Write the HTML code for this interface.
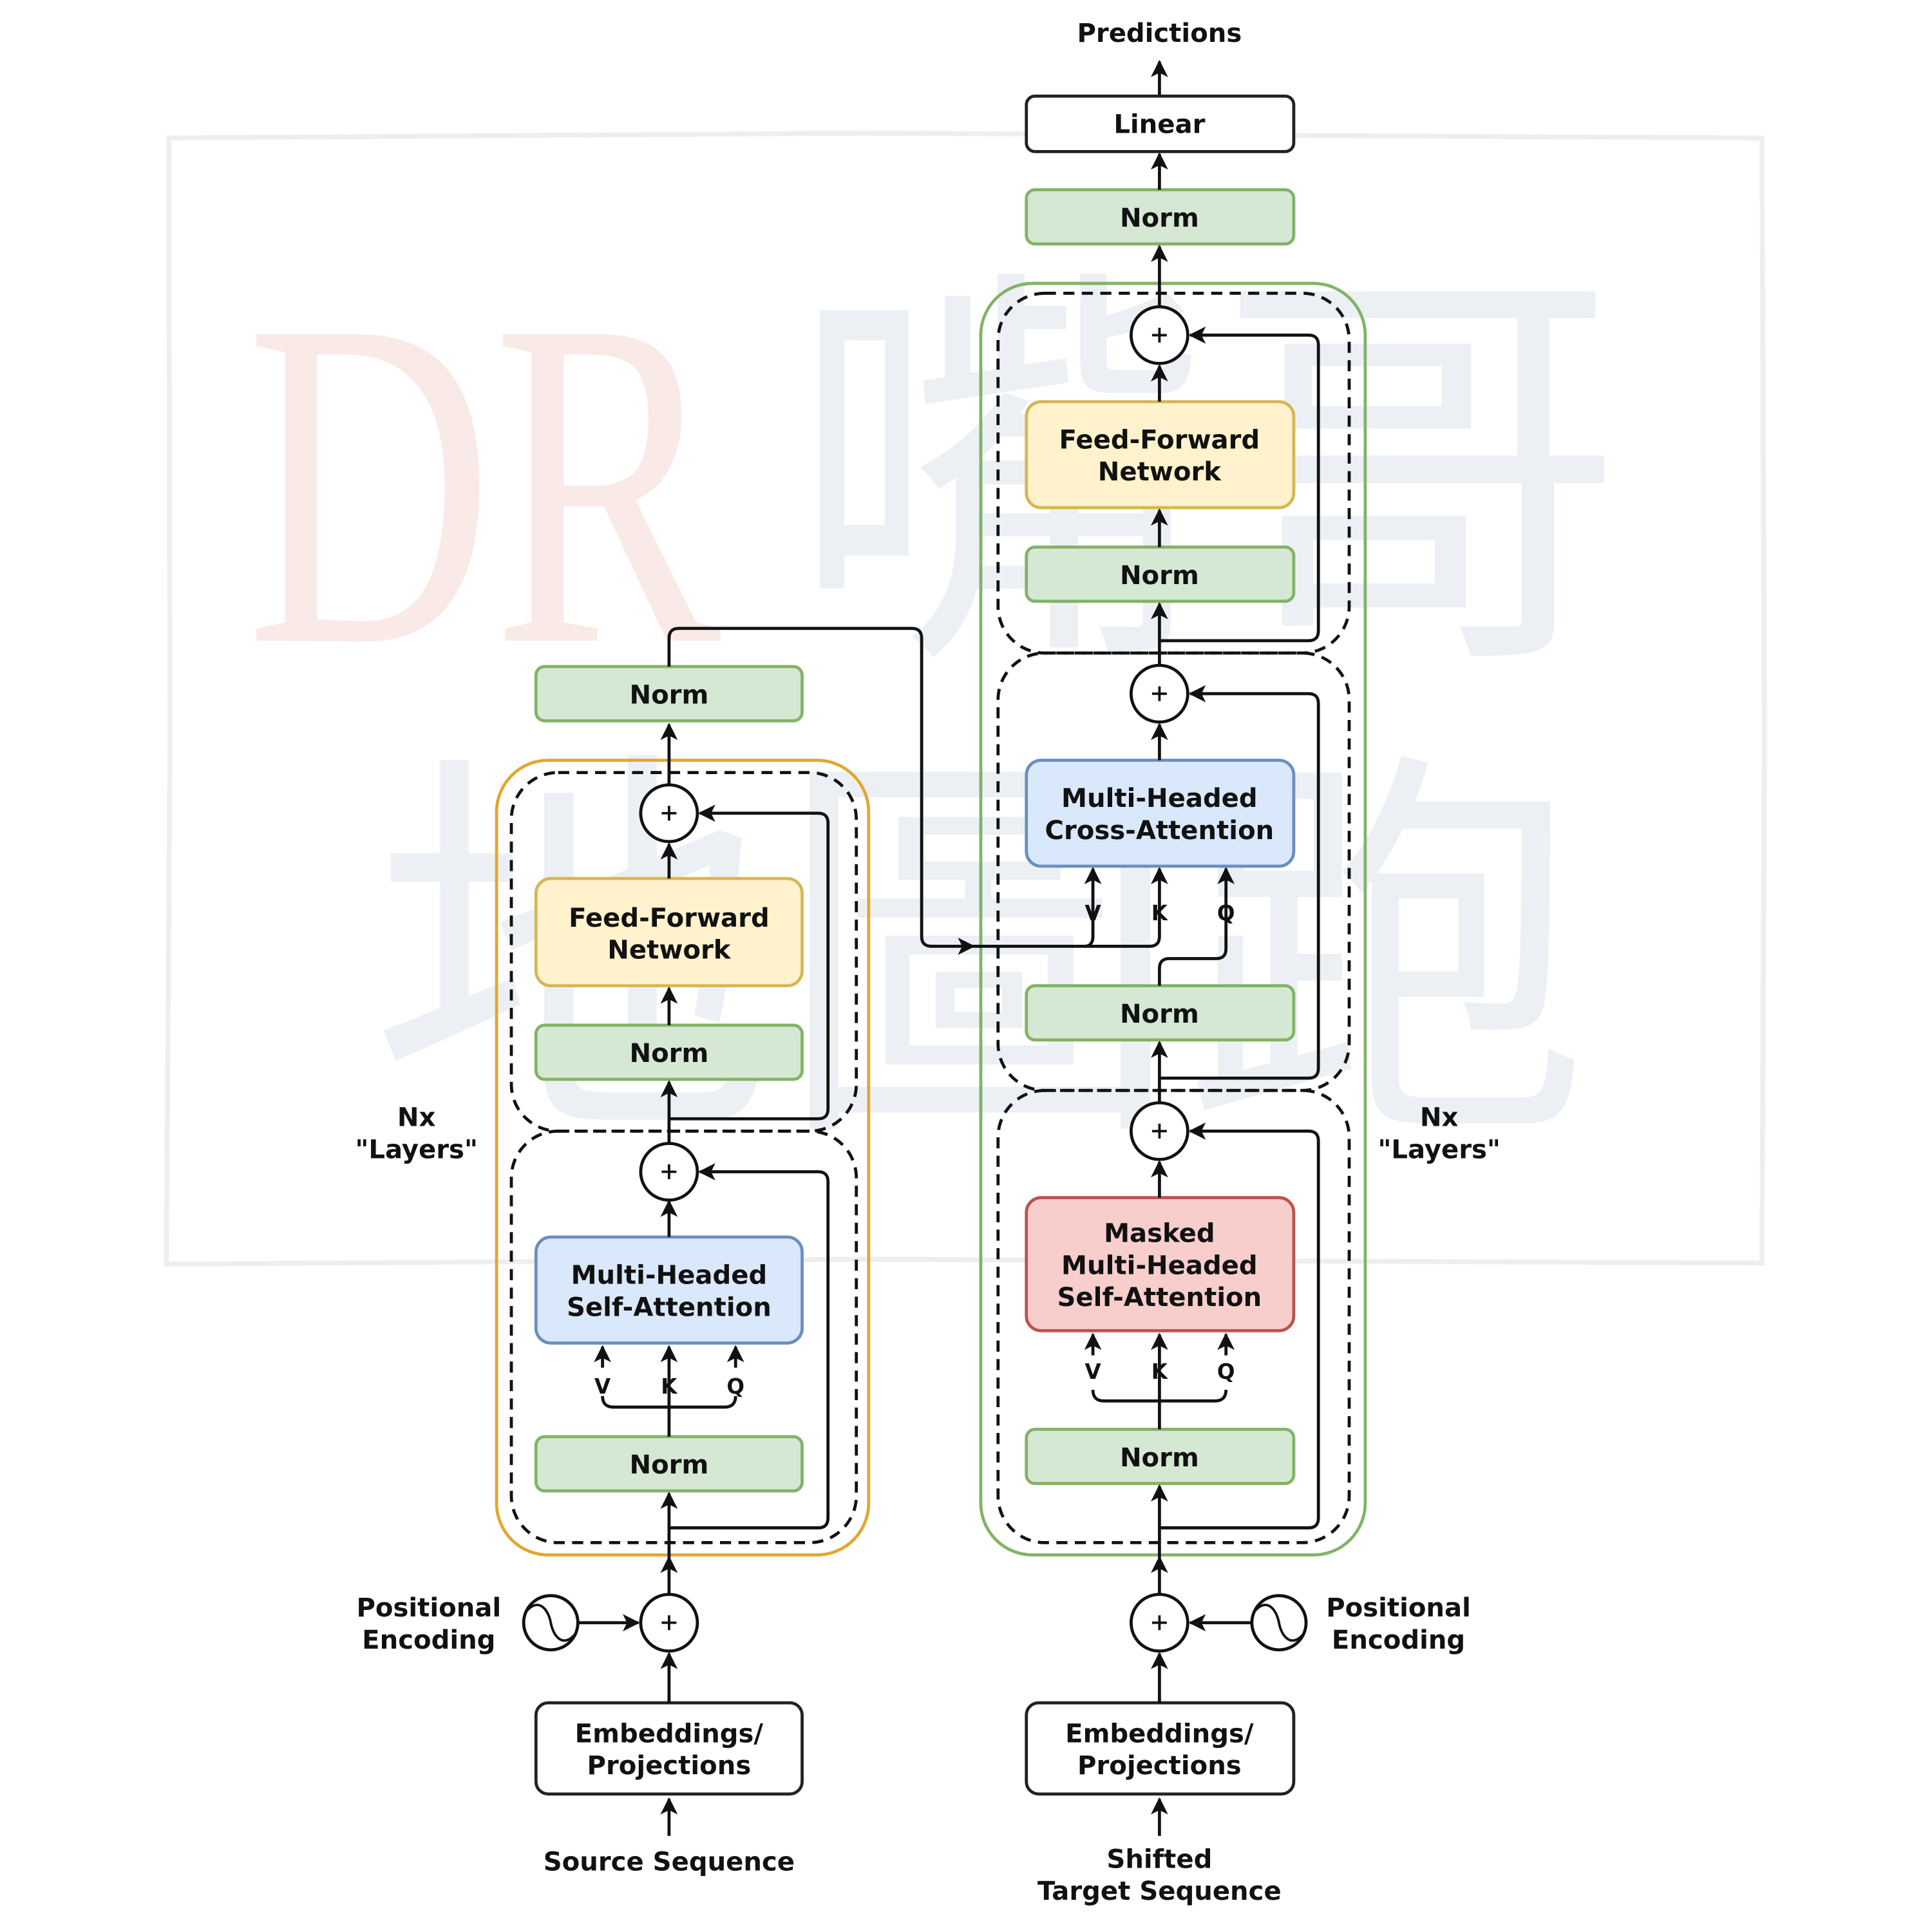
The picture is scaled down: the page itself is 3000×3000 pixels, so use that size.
<!DOCTYPE html>
<html><head><meta charset="utf-8"><style>
html,body{margin:0;padding:0;background:#fff;}
svg{display:block;}
text{font-family:"DejaVu Sans","Liberation Sans",sans-serif;font-weight:bold;fill:#111;text-anchor:middle;}
</style></head><body>
<svg width="3000" height="3000" viewBox="0 0 1568 1568" xmlns="http://www.w3.org/2000/svg">
<defs>
<marker id="a" viewBox="0 0 10 10" refX="9" refY="5" markerWidth="14" markerHeight="14" markerUnits="userSpaceOnUse" orient="auto"><path d="M0,0 L10,5 L0,10 L2.5,5 z" fill="#111"/></marker>
</defs>
<rect width="1568" height="1568" fill="#fff"/>
<!-- watermark -->
<g opacity="0.35">
<path d="M137,112 L700,108 L1430,112 L1432,600 L1430,1025 L700,1022 L135,1026 L138,600 Z" fill="none" stroke="#cfcfcf" stroke-width="4"/>
<text x="200" y="520" font-size="380" textLength="385" lengthAdjust="spacingAndGlyphs" style="text-anchor:start;fill:#f0c4be;font-family:'Liberation Serif',serif;font-weight:normal">DR</text>
<text x="980" y="505" font-size="340" style="fill:#c9d7e3;font-family:'Liberation Sans','Noto Sans CJK SC',sans-serif;font-weight:normal">嘴哥</text>
<text x="795" y="890" font-size="330" style="fill:#c9d7e3;font-family:'Liberation Sans','Noto Sans CJK TC',sans-serif;font-weight:normal">地圖跑</text>
</g>
<!-- containers -->
<rect x="403" y="617" width="302" height="645" rx="42" fill="none" stroke="#e0a82e" stroke-width="2.5"/>
<rect x="796" y="230" width="312" height="1032" rx="42" fill="none" stroke="#82b366" stroke-width="2.5"/>
<g fill="none" stroke="#111" stroke-width="2.5" stroke-dasharray="9,6">
<rect x="415" y="627" width="280" height="291" rx="38"/>
<rect x="415" y="918" width="280" height="334" rx="38"/>
<rect x="810" y="238" width="285" height="292" rx="38"/>
<rect x="810" y="530" width="285" height="355" rx="38"/>
<rect x="810" y="885" width="285" height="367" rx="38"/>
</g>
<!-- boxes -->
<g stroke-width="2.5">
<rect x="833" y="78" width="217" height="45" rx="7" fill="#fff" stroke="#222"/>
<rect x="833" y="154" width="217" height="44" rx="7" fill="#d5e8d4" stroke="#82b366"/>
<rect x="833" y="326" width="217" height="86" rx="12" fill="#fff2cc" stroke="#d6b656"/>
<rect x="833" y="444" width="217" height="44" rx="7" fill="#d5e8d4" stroke="#82b366"/>
<rect x="833" y="617" width="217" height="86" rx="12" fill="#dae8fc" stroke="#6c8ebf"/>
<rect x="833" y="800" width="217" height="44" rx="7" fill="#d5e8d4" stroke="#82b366"/>
<rect x="833" y="972" width="217" height="108" rx="12" fill="#f8cecc" stroke="#b85450"/>
<rect x="833" y="1160" width="217" height="44" rx="7" fill="#d5e8d4" stroke="#82b366"/>
<rect x="833" y="1382" width="217" height="74" rx="10" fill="#fff" stroke="#222"/>
<rect x="435" y="541" width="216" height="44" rx="7" fill="#d5e8d4" stroke="#82b366"/>
<rect x="435" y="713" width="216" height="87" rx="12" fill="#fff2cc" stroke="#d6b656"/>
<rect x="435" y="832" width="216" height="44" rx="7" fill="#d5e8d4" stroke="#82b366"/>
<rect x="435" y="1004" width="216" height="86" rx="12" fill="#dae8fc" stroke="#6c8ebf"/>
<rect x="435" y="1166" width="216" height="44" rx="7" fill="#d5e8d4" stroke="#82b366"/>
<rect x="435" y="1382" width="216" height="74" rx="10" fill="#fff" stroke="#222"/>
</g>
<!-- connectors -->
<g fill="none" stroke="#111" stroke-width="2.5" marker-end="url(#a)">
<path d="M941,78 V50"/>
<path d="M941,154 V125"/>
<path d="M941,249 V200"/>
<path d="M941,326 V297"/>
<path d="M941,444 V414"/>
<path d="M941,540 V490"/>
<path d="M941,520 H1062 Q1070,520 1070,512 V280 Q1070,272 1062,272 H966"/>
<path d="M941,617 V588"/>
<path d="M941,875 H1062 Q1070,875 1070,867 V571 Q1070,563 1062,563 H966"/>
<path d="M941,895 V846"/>
<path d="M941,800 V786 Q941,778 949,778 H987 Q995,778 995,770 V705"/>
<path d="M790,768 H933 Q941,768 941,760 V705"/>
<path d="M880,768 Q887,768 887,760 V705"/>
<path d="M543,541 V518 Q543,510 551,510 H740 Q748,510 748,518 V760 Q748,768 756,768 H790"/>
<path d="M941,972 V943"/>
<path d="M941,1240 H1062 Q1070,1240 1070,1232 V926 Q1070,918 1062,918 H966"/>
<path d="M887,1100 V1083"/>
<path d="M941,1160 V1083"/>
<path d="M995,1100 V1083"/>
<path d="M941,1294 V1264"/>
<path d="M941,1264 V1206"/>
<path d="M1016,1317 H966"/>
<path d="M941,1382 V1342"/>
<path d="M941,1490 V1460"/>
<path d="M543,637 V588"/>
<path d="M543,713 V685"/>
<path d="M543,832 V802"/>
<path d="M543,928 V878"/>
<path d="M543,908 H664 Q672,908 672,900 V668 Q672,660 664,660 H568"/>
<path d="M543,1004 V975"/>
<path d="M543,1240 H664 Q672,1240 672,1232 V959 Q672,951 664,951 H568"/>
<path d="M489,1110 V1093"/>
<path d="M543,1166 V1093"/>
<path d="M597,1110 V1093"/>
<path d="M543,1294 V1264"/>
<path d="M543,1264 V1212"/>
<path d="M469,1317 H518"/>
<path d="M543,1382 V1342"/>
<path d="M543,1490 V1460"/>
</g>
<g fill="none" stroke="#111" stroke-width="2.5">
<path d="M887,1128 Q887,1137 896,1137 H986 Q995,1137 995,1128"/>
<path d="M489,1133 Q489,1142 498,1142 H588 Q597,1142 597,1133"/>
</g>
<!-- plus circles -->
<g fill="#fff" stroke="#111" stroke-width="2.5">
<circle cx="941" cy="272" r="23"/><circle cx="941" cy="563" r="23"/><circle cx="941" cy="918" r="23"/><circle cx="941" cy="1317" r="23"/>
<circle cx="543" cy="660" r="23"/><circle cx="543" cy="951" r="23"/><circle cx="543" cy="1317" r="23"/>
<circle cx="1038" cy="1317" r="22"/><circle cx="447" cy="1317" r="22"/>
</g>
<g stroke="#111" stroke-width="2" fill="none">
<path d="M935,272 h12 M941,266 v12 M935,563 h12 M941,557 v12 M935,918 h12 M941,912 v12 M935,1317 h12 M941,1311 v12 M537,660 h12 M543,654 v12 M537,951 h12 M543,945 v12 M537,1317 h12 M543,1311 v12"/>
<path d="M1018,1308 C1028,1296 1036,1306 1038,1317 C1040,1328 1048,1338 1058,1326"/>
<path d="M427,1308 C437,1296 445,1306 447,1317 C449,1328 457,1338 467,1326"/>
</g>
<!-- labels -->
<g font-size="21">
<text x="941" y="34">Predictions</text>
<text x="941" y="108">Linear</text>
<text x="941" y="184">Norm</text>
<text x="941" y="364">Feed-Forward</text>
<text x="941" y="390">Network</text>
<text x="941" y="474">Norm</text>
<text x="941" y="655">Multi-Headed</text>
<text x="941" y="681">Cross-Attention</text>
<text x="941" y="830">Norm</text>
<text x="941" y="1008">Masked</text>
<text x="941" y="1034">Multi-Headed</text>
<text x="941" y="1060">Self-Attention</text>
<text x="941" y="1190">Norm</text>
<text x="941" y="1414">Embeddings/</text>
<text x="941" y="1440">Projections</text>
<text x="941" y="1516">Shifted</text>
<text x="941" y="1542">Target Sequence</text>
<text x="1135" y="1312">Positional</text>
<text x="1135" y="1338">Encoding</text>
<text x="1168" y="914">Nx</text>
<text x="1168" y="940">"Layers"</text>
<text x="543" y="571">Norm</text>
<text x="543" y="752">Feed-Forward</text>
<text x="543" y="778">Network</text>
<text x="543" y="862">Norm</text>
<text x="543" y="1042">Multi-Headed</text>
<text x="543" y="1068">Self-Attention</text>
<text x="543" y="1196">Norm</text>
<text x="543" y="1414">Embeddings/</text>
<text x="543" y="1440">Projections</text>
<text x="543" y="1518">Source Sequence</text>
<text x="348" y="1312">Positional</text>
<text x="348" y="1338">Encoding</text>
<text x="338" y="914">Nx</text>
<text x="338" y="940">"Layers"</text>
</g>
<g font-size="17">
<text x="887" y="747">V</text><text x="941" y="747">K</text><text x="995" y="747">Q</text>
<text x="887" y="1119">V</text><text x="941" y="1119">K</text><text x="995" y="1119">Q</text>
<text x="489" y="1131">V</text><text x="543" y="1131">K</text><text x="597" y="1131">Q</text>
</g>
</svg>
</body></html>
